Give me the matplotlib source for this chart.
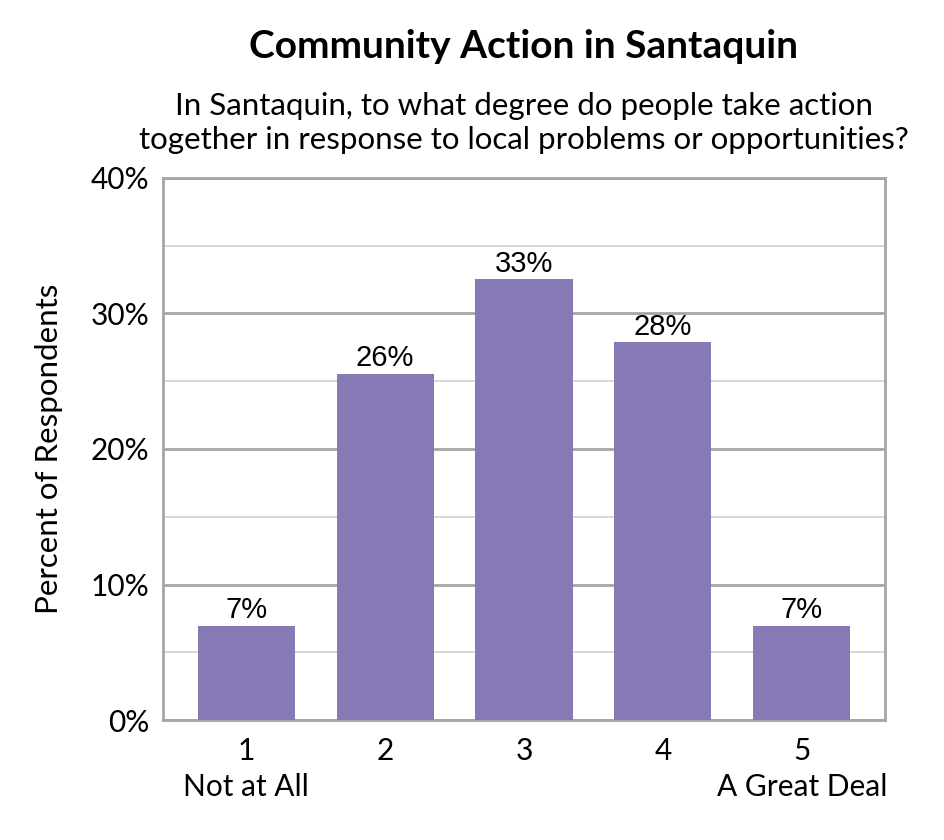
import numpy as np
import matplotlib
matplotlib.use('Agg')
import matplotlib.pyplot as plt
from matplotlib.ticker import MultipleLocator, PercentFormatter

# survey responses
categories = ['1\nNot at All', '2', '3', '4', '5\nA Great Deal']
percents = [6.95, 25.55, 32.55, 27.9, 6.95]
bar_labels = ['7%', '26%', '33%', '28%', '7%']

plt.rcParams['font.family'] = ['Lato', 'DejaVu Sans']

fig = plt.figure(figsize=(9.45, 8.4), dpi=100)
ax = fig.add_axes([163/945, 120/840, 722/945, 542/840])

x = np.arange(len(categories))
bars = ax.bar(x, percents, width=0.70, color='#8779B5', zorder=3)

for b, lab in zip(bars, bar_labels):
    ax.text(b.get_x() + b.get_width()/2, b.get_height() + 0.1, lab,
            ha='center', va='bottom', fontsize=21, family='Liberation Sans')

ax.set_xlim(-0.6, 4.6)
ax.set_ylim(0, 40)
ax.yaxis.set_major_locator(MultipleLocator(10))
ax.yaxis.set_minor_locator(MultipleLocator(5))
ax.yaxis.set_major_formatter(PercentFormatter(decimals=0))
ax.grid(axis='y', which='major', color='#a6a6a6', linewidth=2, zorder=0)
ax.grid(axis='y', which='minor', color='#d0d0d0', linewidth=1.2, zorder=0)
ax.set_xticks(x)
ax.set_xticklabels(categories, fontsize=21.5, linespacing=1.35)
ax.tick_params(axis='both', length=0, labelsize=21.5)
ax.tick_params(axis='x', pad=12)
ax.tick_params(axis='y', pad=10)
ax.tick_params(axis='y', which='minor', length=0)
for s in ax.spines.values():
    s.set_color('#a6a6a6')
    s.set_linewidth(2)

ax.set_ylabel('Percent of Respondents', fontsize=22.5, labelpad=20)

fig.text(524/945, 1 - 47/840, 'Community Action in Santaquin', ha='center', va='center',
         fontsize=28, fontweight='bold')
fig.text(524/945, 1 - 123/840,
         'In Santaquin, to what degree do people take action\ntogether in response to local problems or opportunities?',
         ha='center', va='center', fontsize=22.5, linespacing=1.27)

plt.savefig('out.png')
